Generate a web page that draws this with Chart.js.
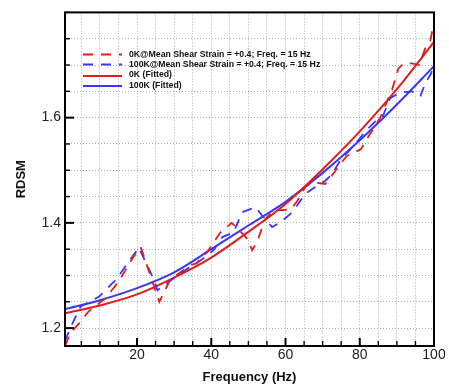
<!DOCTYPE html>
<html><head><meta charset="utf-8">
<script src="https://cdn.jsdelivr.net/npm/chart.js@4/dist/chart.umd.min.js"></script>
<style>html,body{margin:0;padding:0;background:#fff;}#wrap{width:449px;height:390px;position:relative;}</style>
</head><body><div id="wrap"><canvas id="c"></canvas></div>
<script>
// ---- data ----
const seriesLabels = [
  "0K@Mean Shear Strain = +0.4; Freq. = 15 Hz",
  "100K@Mean Shear Strain = +0.4; Freq. = 15 Hz",
  "0K (Fitted)",
  "100K (Fitted)"
];
const freq0K = [0.6, 2, 4.5, 7, 11.5, 15, 19, 21, 26, 29, 34.5, 36, 39, 40.6, 42.5, 45.5, 48.5, 50, 51, 52.3, 54.5, 57, 59, 61.5, 63.2, 65.5, 67.6, 70.7, 72.5, 74.7, 76.5, 80.3, 83.7, 85.5, 88.7, 90.4, 91.8, 94, 96, 97.6, 99, 100];
const rdsm0K = [1.166, 1.19, 1.21, 1.232, 1.257, 1.288, 1.335, 1.354, 1.25, 1.293, 1.32, 1.323, 1.345, 1.363, 1.382, 1.4, 1.379, 1.367, 1.348, 1.363, 1.407, 1.425, 1.424, 1.426, 1.442, 1.47, 1.477, 1.474, 1.49, 1.511, 1.527, 1.54, 1.58, 1.6, 1.653, 1.693, 1.703, 1.703, 1.70, 1.731, 1.747, 1.78];
const freq100K = [0.6, 2, 4.8, 9.8, 14.2, 20.5, 24.6, 25.5, 27, 29, 33.5, 35.3, 38, 40.6, 43, 46, 48.3, 51.9, 53.7, 56.4, 58.6, 61.3, 63.1, 65.3, 67.1, 70.7, 72.5, 75.2, 77, 79.7, 81.5, 84.2, 86, 88.2, 90.9, 94, 96.3, 97.6, 99, 100];
const rdsm100K = [1.175, 1.2, 1.241, 1.26, 1.291, 1.353, 1.291, 1.272, 1.28, 1.29, 1.313, 1.32, 1.333, 1.348, 1.373, 1.382, 1.42, 1.43, 1.414, 1.392, 1.401, 1.417, 1.433, 1.455, 1.464, 1.48, 1.492, 1.524, 1.536, 1.558, 1.574, 1.593, 1.599, 1.637, 1.648, 1.65, 1.64, 1.665, 1.681, 1.697];
const freqFit = [0.6, 10, 20, 30, 40, 50, 60, 70, 80, 90, 100];
const fit0K = [1.228, 1.243, 1.264, 1.296, 1.334, 1.383, 1.436, 1.502, 1.574, 1.654, 1.744];
const fit100K = [1.236, 1.253, 1.276, 1.306, 1.35, 1.395, 1.44, 1.495, 1.557, 1.625, 1.698];
const xGridTicks = [5,10,15,20,25,30,35,40,45,50,55,60,65,70,75,80,85,90,95,100];
const xLabelTicks = [20, 40, 60, 80, 100];
const yGridTicks = [1.2,1.25,1.3,1.35,1.4,1.45,1.5,1.55,1.6,1.65,1.7,1.75,1.8];
const yLabelTicks = [1.2, 1.4, 1.6];

const RED = 'rgb(225,28,28)';
const BLUE = 'rgb(55,55,255)';
const pts = (xs, ys) => xs.map((x, i) => ({x: x, y: ys[i]}));
const isIn = (arr, v) => arr.some(a => Math.abs(a - v) < 1e-6);

const framePlugin = {
  id: 'frame',
  afterDraw(chart) {
    const {ctx, chartArea: a, scales: {x, y}} = chart;
    ctx.save();
    ctx.strokeStyle = '#000';
    // inward ticks
    xGridTicks.forEach(v => {
      const px = x.getPixelForValue(v);
      const major = isIn(xLabelTicks, v);
      ctx.lineWidth = major ? 2 : 1.4;
      ctx.beginPath(); ctx.moveTo(px, a.bottom); ctx.lineTo(px, a.bottom - (major ? 8 : 5)); ctx.stroke();
    });
    yGridTicks.forEach(v => {
      const py = y.getPixelForValue(v);
      const major = isIn(yLabelTicks, v);
      ctx.lineWidth = major ? 2 : 1.4;
      ctx.beginPath(); ctx.moveTo(a.left, py); ctx.lineTo(a.left + (major ? 9 : 5), py); ctx.stroke();
    });
    // frame
    ctx.lineWidth = 2;
    ctx.strokeRect(a.left, a.top, a.right - a.left, a.bottom - a.top);
    // legend
    const rows = [54.5, 64.5, 76, 86];
    const textRows = [54.5, 64.5, 75, 86];
    ctx.font = 'bold 8.7px "Liberation Sans", Arial, sans-serif';
    ctx.textBaseline = 'middle';
    ctx.textAlign = 'left';
    chart.data.datasets.forEach((ds, i) => {
      ctx.strokeStyle = ds.borderColor;
      ctx.lineWidth = ds.borderWidth;
      ctx.setLineDash(ds.borderDash || []);
      ctx.beginPath(); ctx.moveTo(83, rows[i]); ctx.lineTo(122, rows[i]); ctx.stroke();
      ctx.setLineDash([]);
      ctx.fillStyle = '#111';
      ctx.fillText(ds.label, 129, textRows[i]);
    });
    ctx.restore();
  }
};

new Chart(document.getElementById('c'), {
  type: 'line',
  data: {
    datasets: [
      {label: seriesLabels[0], data: pts(freq0K, rdsm0K), borderColor: RED, borderWidth: 1.8, borderDash: [10, 8], pointRadius: 0, tension: 0},
      {label: seriesLabels[1], data: pts(freq100K, rdsm100K), borderColor: BLUE, borderWidth: 1.8, borderDash: [10, 8], pointRadius: 0, tension: 0},
      {label: seriesLabels[2], data: pts(freqFit, fit0K), borderColor: RED, borderWidth: 2, pointRadius: 0, cubicInterpolationMode: 'monotone'},
      {label: seriesLabels[3], data: pts(freqFit, fit100K), borderColor: BLUE, borderWidth: 2, pointRadius: 0, cubicInterpolationMode: 'monotone'}
    ]
  },
  options: {
    responsive: true, maintainAspectRatio: false, animation: false, devicePixelRatio: 1,
    layout: {padding: {left: 0, right: 15, top: 10, bottom: 0}},
    plugins: {legend: {display: false}, tooltip: {enabled: false}},
    scales: {
      x: {
        type: 'linear', min: 0.6, max: 100,
        afterBuildTicks: s => { s.ticks = xGridTicks.map(v => ({value: v})); },
        afterFit: s => { s.height = 44; },
        ticks: {
          autoSkip: false, maxRotation: 0, padding: 1, color: '#222',
          font: {family: '"Liberation Sans", Arial, sans-serif', size: 14},
          callback: v => isIn(xLabelTicks, v) ? String(v) : ''
        },
        grid: {color: 'rgba(0,0,0,0.32)', lineWidth: 1, drawTicks: false},
        border: {display: false, dash: [1, 2]},
        title: {display: true, text: 'Frequency (Hz)', color: '#111',
          font: {family: '"Liberation Sans", Arial, sans-serif', size: 13, weight: 'bold'},
          padding: {top: 0, bottom: 5}}
      },
      y: {
        type: 'linear', min: 1.166, max: 1.8,
        afterBuildTicks: s => { s.ticks = yGridTicks.map(v => ({value: v})); },
        afterFit: s => { s.width = 65; },
        ticks: {
          autoSkip: false, padding: 4, color: '#222',
          font: {family: '"Liberation Sans", Arial, sans-serif', size: 14},
          callback: v => isIn(yLabelTicks, v) ? v.toFixed(1) : ''
        },
        grid: {color: 'rgba(0,0,0,0.32)', lineWidth: 1, drawTicks: false},
        border: {display: false, dash: [1, 2]},
        title: {display: true, text: 'RDSM', color: '#111',
          font: {family: '"Liberation Sans", Arial, sans-serif', size: 13, weight: 'bold'},
          padding: {top: 13.5, bottom: 0}}
      }
    }
  },
  plugins: [framePlugin]
});
</script>
</body></html>
